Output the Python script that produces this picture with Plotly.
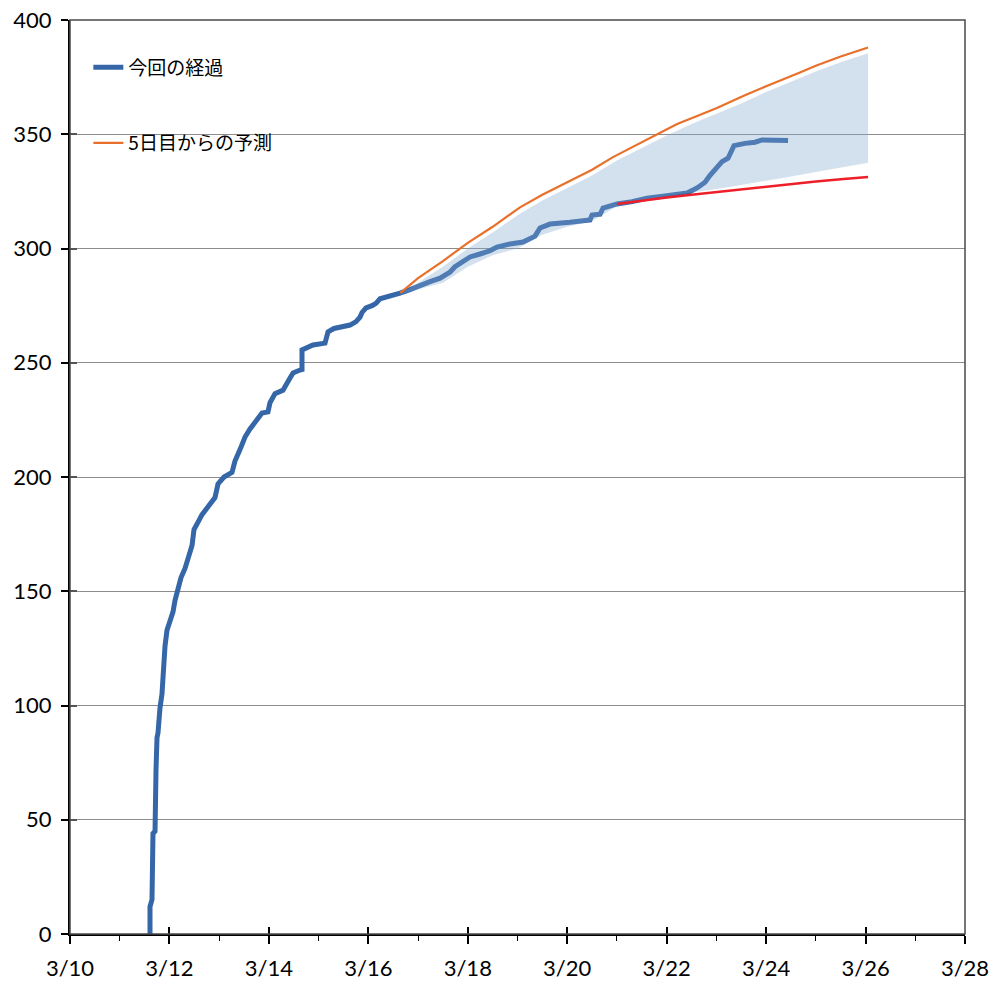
import plotly.graph_objects as go

# ---- data (March day numbers, fractional) ----
actual_day = [11.609, 11.609, 11.649, 11.649, 11.669, 11.669, 11.710, 11.710, 11.730, 11.730,
              11.750, 11.770, 11.810, 11.850, 11.870, 11.891, 11.911, 11.951, 12.011, 12.072,
              12.112, 12.152, 12.213, 12.233, 12.313, 12.394, 12.454, 12.494, 12.514, 12.594,
              12.655, 12.735, 12.816, 12.916, 12.977, 13.097, 13.258, 13.318, 13.419, 13.520,
              13.620, 13.761, 13.862, 13.982, 14.022, 14.123, 14.284, 14.364, 14.485, 14.626,
              14.666, 14.666, 14.887, 15.129, 15.189, 15.310, 15.471, 15.632, 15.753, 15.833,
              15.873, 15.953, 16.074, 16.154, 16.235, 16.436, 16.637, 16.838, 17.039, 17.241,
              17.442, 17.643, 17.743, 17.844, 18.045, 18.246, 18.447, 18.588, 18.850, 19.111,
              19.252, 19.352, 19.453, 19.654, 20.056, 20.458, 20.499, 20.660, 20.720, 21.002,
              21.303, 21.605, 21.967, 22.410, 22.611, 22.772, 22.872, 22.953, 23.033, 23.113,
              23.234, 23.294, 23.354, 23.576, 23.777, 23.918, 24.179, 24.441]
actual_val = [0, 12, 15, 27, 28, 44, 45, 58, 59, 72,
              86, 88, 99, 105, 112, 120, 126, 133, 137, 141,
              146, 150, 154, 156, 160, 165, 170, 177, 178, 181,
              183.5, 186, 188, 191, 197, 200, 202, 207, 212, 217.5,
              221, 225.5, 228, 228.5, 232.5, 236.5, 238, 241, 245.5, 246.8,
              247, 255.6, 257.8, 258.6, 263.5, 265, 266, 266.5, 268, 270,
              272, 274, 275, 276, 278, 279, 280.5, 282, 284, 285.5,
              287, 289.7, 292, 293.6, 296.3, 297.6, 299, 300.6, 302, 302.8,
              304, 305.4, 309, 310.7, 311.5, 312.5, 314.6, 315, 317.7, 319.5,
              320.5, 322, 323, 324.3, 326.5, 329, 332, 334, 336.5, 338,
              339.5, 343, 345, 346, 346.5, 347.5, 347.5, 347.3]

forecast_day = [16.64, 17.0, 17.5, 17.78, 18.0, 18.5, 19.05, 19.5, 20.0, 20.5, 20.92,
                21.5, 21.87, 22.21, 22.5, 23.01, 23.54, 24.0, 24.68, 25.0, 25.5, 26.05]
forecast_val = [280.5, 287, 294.5, 299, 302.5, 309.5, 318, 323.5, 329, 334.5, 340,
                346.5, 350.5, 354.5, 357, 361.5, 366.7, 371, 377, 380, 384, 388]

lower_day = [21.0, 21.5, 22.0, 22.5, 23.0, 23.5, 24.0, 24.5, 25.0, 25.5, 26.05]
lower_val = [319.5, 321.0, 322.3, 323.5, 324.7, 325.9, 327.2, 328.3, 329.3, 330.3, 331.3]

band_day = [16.64, 17.0, 17.5, 18.0, 18.5, 19.0, 19.5, 20.0, 20.5, 21.0,
            21.5, 22.0, 22.5, 23.0, 23.5, 24.0, 24.5, 25.0, 25.5, 26.05]
band_upper = [280, 285, 292, 300, 307, 314.5, 321, 326.5, 332, 338.5,
              344, 349.5, 354.5, 359, 363.5, 368.5, 373, 377.5, 381.5, 385.5]
band_lower = [280, 282, 285, 292, 297, 300, 306, 309.5, 312, 318.5,
              321, 323, 324.5, 326, 327.8, 329.8, 331.5, 333.5, 335.5, 337.5]

tick_days = [10, 12, 14, 16, 18, 20, 22, 24, 26, 28]
tick_labels = ["3/10", "3/12", "3/14", "3/16", "3/18", "3/20", "3/22", "3/24", "3/26", "3/28"]
minor_days = [11, 13, 15, 17, 19, 21, 23, 25, 27]
y_ticks = [0, 50, 100, 150, 200, 250, 300, 350, 400]

BLUE = "#3566a8"
ORANGE = "#e8702a"
RED = "#ef1f2a"

fig = go.Figure()

fig.add_trace(go.Scatter(
    x=actual_day, y=actual_val, mode="lines", name="今回の経過",
    line=dict(color=BLUE, width=5), legendgroup="a", hoverinfo="skip"))

fig.add_trace(go.Scatter(
    x=band_day + band_day[::-1], y=band_upper + band_lower[::-1],
    mode="lines", fill="toself", fillcolor="rgba(130,165,203,0.35)",
    line=dict(width=0, color="rgba(0,0,0,0)"), showlegend=False, legendgroup="c",
    hoverinfo="skip"))

fig.add_trace(go.Scatter(
    x=forecast_day, y=forecast_val, mode="lines", name="5日目からの予測",
    line=dict(color=ORANGE, width=2.2), legendgroup="b", hoverinfo="skip"))

fig.add_trace(go.Scatter(
    x=lower_day, y=lower_val, mode="lines", showlegend=False, legendgroup="d",
    line=dict(color=RED, width=2.5), hoverinfo="skip"))

tickfont = dict(family="Lato, 'Open Sans', sans-serif", size=22, color="black")

fig.update_layout(
    width=993, height=985,
    margin=dict(l=70, r=28, t=20, b=51, autoexpand=False),
    paper_bgcolor="white", plot_bgcolor="white",
    showlegend=True,
    legend=dict(x=0.0205, y=0.969, xanchor="left", yanchor="top",
                font=dict(family="'Noto Sans CJK JP', sans-serif", size=19, color="black"),
                bgcolor="rgba(0,0,0,0)", tracegroupgap=48, traceorder="grouped"),
    xaxis=dict(range=[10, 28], tickmode="array", tickvals=tick_days, ticktext=tick_labels,
               automargin=False, ticklabeloverflow="allow",
               showgrid=False, zeroline=False, showline=True, linecolor="black", linewidth=2,
               ticks="outside", ticklen=8, tickwidth=1.5, tickcolor="black",
               tickfont=tickfont, ticklabelstandoff=6,
               minor=dict(tickmode="array", tickvals=minor_days, ticks="outside",
                          ticklen=5, tickwidth=1.3, tickcolor="black", showgrid=False)),
    xaxis2=dict(range=[10, 28], overlaying="x", anchor="y", side="bottom", automargin=False,
                tickmode="array", tickvals=tick_days[1:], ticktext=["" for _ in tick_days[1:]],
                ticks="inside", ticklen=7, tickwidth=1.5, tickcolor="black",
                showgrid=False, zeroline=False, showline=False, showticklabels=False),
    yaxis=dict(range=[0, 400], tickmode="array", tickvals=y_ticks, automargin=False,
               ticklabeloverflow="allow",
               showgrid=True, gridcolor="#8c8c8c", gridwidth=1, zeroline=False,
               showline=True, linecolor="black", linewidth=2,
               ticks="outside", ticklen=7, tickwidth=1.5, tickcolor="black",
               tickfont=tickfont, ticklabelstandoff=5),
    yaxis2=dict(range=[0, 400], overlaying="y", anchor="x", side="left", automargin=False,
                tickmode="array", tickvals=y_ticks[1:], ticks="inside", ticklen=7,
                tickwidth=1.5, tickcolor="#555555", showgrid=False, zeroline=False,
                showline=False, showticklabels=False),
)

# dummy invisible trace to activate overlay axes
fig.add_trace(go.Scatter(x=[10], y=[0], xaxis="x2", yaxis="y2", mode="markers",
                         marker=dict(opacity=0), showlegend=False, hoverinfo="skip"))

# top/right border
fig.add_shape(type="rect", xref="paper", yref="paper", x0=0, y0=0, x1=1, y1=1,
              line=dict(color="#4a4a4a", width=1.5), layer="above")

# remove the default 8px page margin so the figure fills the window exactly
fig.write_html("out.html", config={"displayModeBar": False},
               post_script="document.body.style.margin='0';document.body.style.overflow='hidden';")
